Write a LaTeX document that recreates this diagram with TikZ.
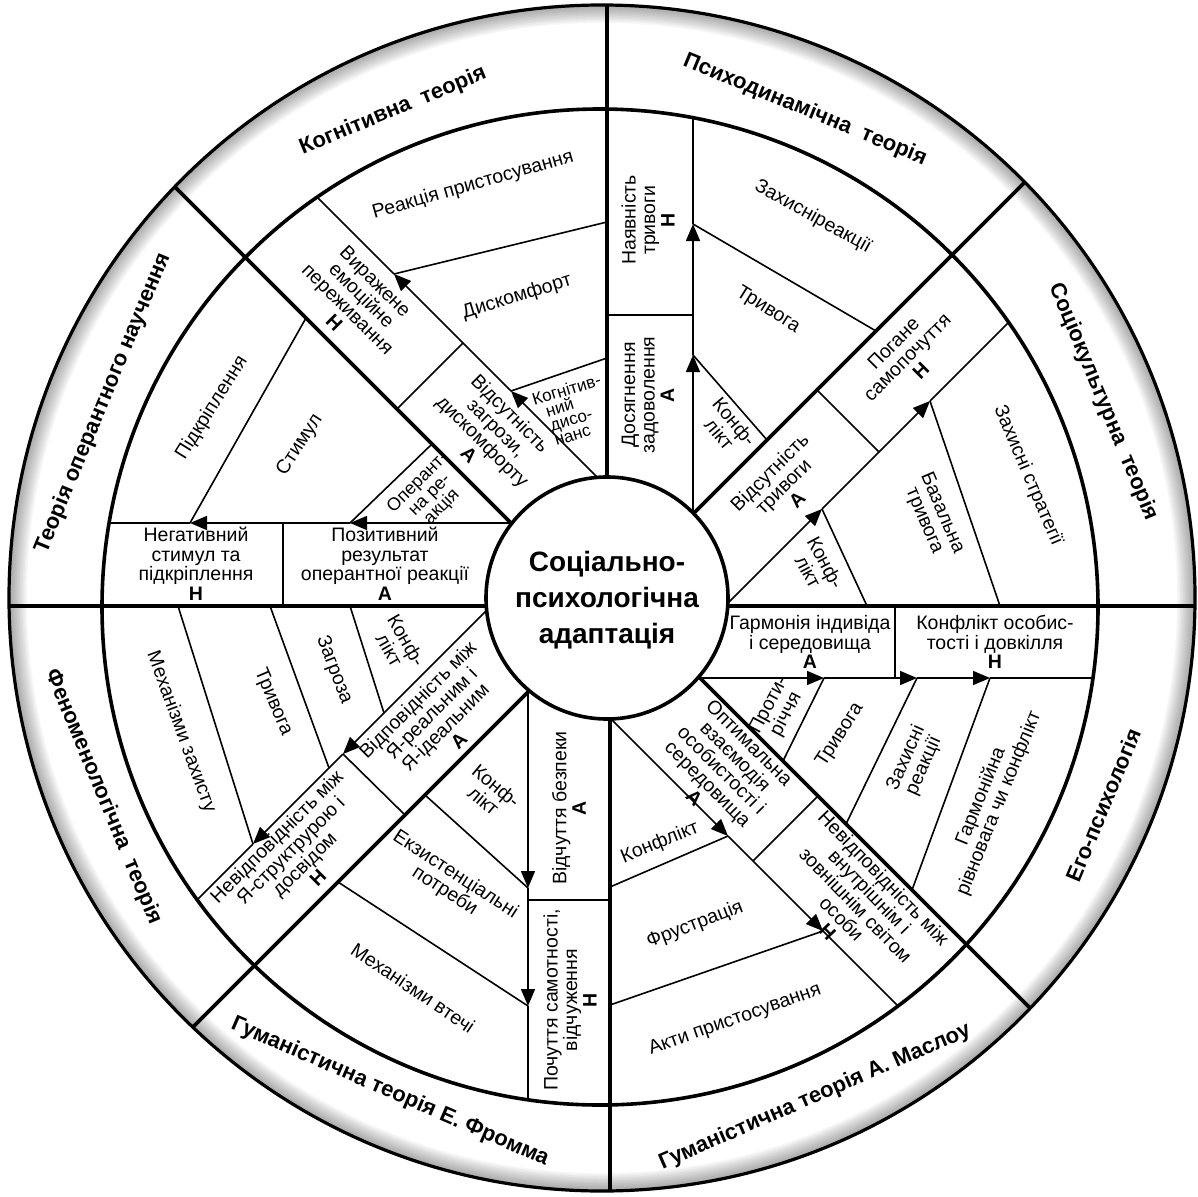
\documentclass[tikz,border=0pt]{standalone}
\usepackage{fontspec}
\setmainfont{Liberation Sans}
\usetikzlibrary{arrows.meta}
\begin{document}
\begin{tikzpicture}[x=1pt,y=-1pt,
  thickln/.style={line width=3.6pt},
  thinln/.style={line width=1.6pt},
  arr/.style={thinln,-{Triangle[length=17pt,width=14pt]}},
  lab/.style={font=\fontsize{19.5}{19.5}\selectfont,align=center,inner sep=0pt},
  small/.style={font=\fontsize{17}{15}\selectfont,align=left,inner sep=0pt},
  ttl/.style={font=\fontsize{22}{24}\selectfont\bfseries,inner sep=0pt},
  ctr/.style={font=\fontsize{28}{36}\selectfont\bfseries,align=center,inner sep=0pt}]
\useasboundingbox (0,0) rectangle (1198,1196);
\fill[white] (0,0) rectangle (1198,1196);

% soft inner shadow of the outer rim
\begin{scope}
  \clip (602,598) circle [radius=593];
  \foreach \i in {1,...,12}
    \draw[black, opacity=0.03, line width=3*\i pt] (602,598) circle [radius=593];
\end{scope}

% ---------- thick radial lines (through the title ring) ----------
\begin{scope}
  \clip (602,598) circle [radius=593];
  \draw[thickln] (607,598) -- (607,-10);
  \draw[thickln] (610,598) -- (610,1210);
  \draw[thickln] (-10,606) -- (1210,606);
  \draw[thickln] (607,619) -- (-10,2);
  \draw[thickln] (607,600) -- (1217,-10);
  \draw[thickln] (607,585) -- (1220,1198);
  \draw[thickln] (607,613) -- (20,1200);
\end{scope}

% ---------- thin band edges with arrows ----------
\coordinate (s1a) at (510,523); \coordinate (s1b) at (350,523); \coordinate (s1c) at (190,523); \coordinate (s1d) at (90,523);
\coordinate (s2a) at (597,477); \coordinate (s2b) at (511,391); \coordinate (s2c) at (394,274); \coordinate (s2d) at (300,180);
\coordinate (s3a) at (693,513); \coordinate (s3b) at (693,355); \coordinate (s3c) at (693,224); \coordinate (s3d) at (693,100);
\coordinate (s4a) at (728,603); \coordinate (s4b) at (822,509); \coordinate (s4c) at (930,401); \coordinate (s4d) at (1050,281);
\coordinate (s5a) at (698,678); \coordinate (s5b) at (824,678); \coordinate (s5c) at (917,678); \coordinate (s5d) at (990,678); \coordinate (s5e) at (1110,678);
\coordinate (s8a) at (611,719); \coordinate (s8b) at (728,836); \coordinate (s8c) at (823,931); \coordinate (s8d) at (920,1028);
\coordinate (s6a) at (528,690); \coordinate (s6b) at (528,888); \coordinate (s6c) at (528,1006); \coordinate (s6d) at (528,1120);
\coordinate (s7a) at (487,610); \coordinate (s7b) at (343,754); \coordinate (s7c) at (253,844); \coordinate (s7d) at (150,947);

\begin{scope}
  \clip (600,607) circle [radius=498];
  \draw[arr] (s1a) -- (s1b); \draw[arr] (s1b) -- (s1c); \draw[thinln] (s1c) -- (s1d);
  \draw[arr] (s2a) -- (s2b); \draw[arr] (s2b) -- (s2c); \draw[thinln] (s2c) -- (s2d);
  \draw[arr] (s3a) -- (s3b); \draw[arr] (s3b) -- (s3c); \draw[thinln] (s3c) -- (s3d);
  \draw[arr] (s4a) -- (s4b); \draw[arr] (s4b) -- (s4c); \draw[thinln] (s4c) -- (s4d);
  \draw[arr] (s5a) -- (s5b); \draw[arr] (s5b) -- (s5c); \draw[arr] (s5c) -- (s5d); \draw[thinln] (s5d) -- (s5e);
  \draw[arr] (s8a) -- (s8b); \draw[arr] (s8b) -- (s8c); \draw[thinln] (s8c) -- (s8d);
  \draw[arr] (s6a) -- (s6b); \draw[arr] (s6b) -- (s6c); \draw[thinln] (s6c) -- (s6d);
  \draw[arr] (s7a) -- (s7b); \draw[arr] (s7b) -- (s7c); \draw[thinln] (s7c) -- (s7d);
\end{scope}

% ---------- box dividers ----------
\draw[thinln] (283,523) -- (283,606);
\draw[thinln] (397,409) -- (463,343);
\draw[thinln] (607,315) -- (693,315);
\draw[thinln] (817,390) -- (879,452);
\draw[thinln] (895,606) -- (895,678);
\draw[thinln] (818,796) -- (753,861);
\draw[thinln] (528,900) -- (610,900);
\draw[thinln] (s7b) -- (405,815);

% ---------- stage lines ----------
\draw[thinln] (432,444) -- (s1b);
\draw[thinln] (306,318) -- (s1c);
\draw[thinln] (607,358) -- (s2b);
\draw[thinln] (607,222) -- (s2c);
\draw[thinln] (s3b) -- (767,440);
\draw[thinln] (s3c) -- (876,331);
\draw[thinln] (s4b) -- (867,606);
\draw[thinln] (s4c) -- (1000,606);
\draw[thinln] (783,761) -- (s5b);
\draw[thinln] (846,824) -- (s5c);
\draw[thinln] (912,890) -- (s5d);
\draw[thinln] (610,887) -- (s8b);
\draw[thinln] (610,1005) -- (s8c);
\draw[thinln] (425,795) -- (s6b);
\draw[thinln] (338,882) -- (s6c);
\draw[thinln] (350,606) -- (384,713);
\draw[thinln] (270,606) -- (329,768);
\draw[thinln] (178,606) -- (s7c);

% ---------- circles ----------
\draw[thickln] (600,607) circle [radius=498];
\draw[line width=3.2pt] (602,598) circle [radius=593];
\draw[thickln, fill=white] (607,598) circle [radius=121];
\node[ctr] (centre) at (607,600) {Соціально-\\психологічна\\адаптація};

% ---------- theory titles ----------
\node[ttl, rotate=67.5]  (th1) at (103,403)  {Теорія оперантного научення};
\node[ttl, rotate=22.5]  (th2) at (393,111)  {Когнітивна\ \ теорія};
\node[ttl, rotate=-22.5] (th3) at (805,110)  {Психодинамічна\ \ теорія};
\node[ttl, rotate=-67.5] (th4) at (1103,402) {Соціокультурна\ \ теорія};
\node[ttl, rotate=67.5]  (th5) at (1103,805) {Его-психологія};
\node[ttl, rotate=23.5]  (th6) at (815,1097) {Гуманістична теорія А. Маслоу};
\node[ttl, rotate=-23.5] (th7) at (390,1092) {Гуманістична теорія Е. Фромма};
\node[ttl, rotate=-67.5] (th8) at (103,797)  {Феноменологічна\ \ теорія};

% ---------- sector 1 ----------
\node[lab, rotate=58] (a1) at (212,408) {Підкріплення};
\node[lab, rotate=57] (a2) at (300,445) {Стимул};
\node[lab, rotate=45, font=\fontsize{18}{17}\selectfont] (a3) at (430,495) {Оперант-\\на ре-\\акція};
\node[lab] (a4) at (196,564) {Негативний\\стимул та\\підкріплення\\\textbf{Н}};
\node[lab] (a5) at (385,564) {Позитивний\\результат\\оперантної реакції\\\textbf{А}};

% ---------- sector 2 ----------
\node[lab, rotate=16] (b1) at (473,185) {Реакція пристосування};
\node[lab, rotate=17] (b2) at (517,297) {Дискомфорт};
\node[lab, rotate=-45] (b3) at (355,302) {Виражене\\емоційне\\переживання\\\textbf{Н}};
\node[lab, rotate=-45] (b4) at (490,434) {Відсутність\\загрози,\\дискомфорту\\\textbf{А}};
\node[small, rotate=17] (b5) at (573,411) {Когнітив-\\\ \ ний\\\ \ дисо-\\\ \ нанс};

% ---------- sector 3 ----------
\node[lab, rotate=90] (c1) at (648,220) {Наявність\\тривоги\\\textbf{Н}};
\node[lab, rotate=90] (c2) at (648,395) {Досягнення\\задоволення\\\textbf{А}};
\node[lab, rotate=-29] (c3) at (813,217) {Захисніреакції};
\node[lab, rotate=-32] (c4) at (768,310) {Тривога};
\node[lab, rotate=-50] (c5) at (727,428) {Конф-\\лікт};

% ---------- sector 4 ----------
\node[lab, rotate=45] (d1) at (907,357) {Погане\\самопочуття\\\textbf{Н}};
\node[lab, rotate=45] (d2) at (783,486) {Відсутність\\тривоги\\\textbf{А}};
\node[lab, rotate=-62] (d3) at (817,567) {Конф-\\лікт};
\node[lab, rotate=-67] (d4) at (933,517) {Базальна\\тривога};
\node[lab, rotate=-67] (d5) at (1028,476) {Захисні стратегії};

% ---------- sector 5 ----------
\node[lab] (e1) at (810,642) {Гармонія індивіда\\і середовища\\\textbf{А}};
\node[lab] (e2) at (995,642) {Конфлікт особис-\\тості і довкілля\\\textbf{Н}};
\node[lab, rotate=62] (e3) at (778,710) {Проти-\\річчя};
\node[lab, rotate=57] (e4) at (840,735) {Тривога};
\node[lab, rotate=66] (e5) at (915,762) {Захисні\\реакції};
\node[lab, rotate=68] (e6) at (990,800) {Гармонійна\\рівновага чи конфлікт};

% ---------- Maslow ----------
\node[lab, rotate=-45] (f1) at (722,770) {Оптимальна\\взаємодія\\особистості і\\середовища\\\textbf{А}};
\node[lab, rotate=-46] (f2) at (856,905) {Невідповідність між\\внутрішнім і\\зовнішнім світом\\особи\\\textbf{Н}};
\node[lab, rotate=22] (f3) at (660,843) {Конфлікт};
\node[lab, rotate=21] (f4) at (695,925) {Фрустрація};
\node[lab, rotate=19.5] (f5) at (735,1020) {Акти пристосування};

% ---------- Fromm ----------
\node[lab, rotate=90] (g1) at (569,808) {Відчуття безпеки\\\textbf{А}};
\node[lab, rotate=90] (g2) at (570,1000) {Почуття самотності,\\відчуження\\\textbf{Н}};
\node[lab, rotate=-40] (g3) at (490,793) {Конф-\\лікт};
\node[lab, rotate=-33] (g4) at (450,883) {Екзистенціальні\\потреби};
\node[lab, rotate=-34] (g5) at (413,988) {Механізми втечі};

% ---------- phenomenological ----------
\node[lab, rotate=45] (h1) at (438,720) {Відповідність між\\Я-реальним і\\Я-ідеальним\\\textbf{А}};
\node[lab, rotate=45] (h2) at (297,857) {Невідповідність між\\Я-структрурою і\\досвідом\\\textbf{Н}};
\node[lab, rotate=-60] (h3) at (398,645) {Конф-\\лікт};
\node[lab, rotate=-69] (h4) at (334,670) {Загроза};
\node[lab, rotate=-67] (h5) at (273,702) {Тривога};
\node[lab, rotate=-70] (h6) at (181,732) {Механізми захисту};
\end{tikzpicture}
\end{document}
